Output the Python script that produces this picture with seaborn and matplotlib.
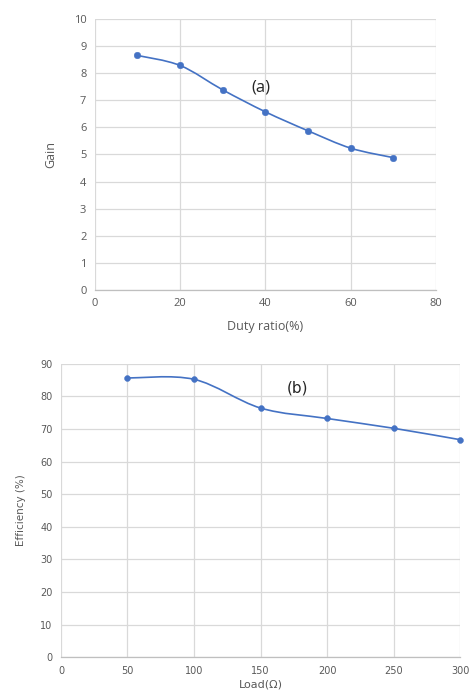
import numpy as np
import matplotlib
matplotlib.use("Agg")
import matplotlib.pyplot as plt
import seaborn as sns
from matplotlib.path import Path
from matplotlib.patches import PathPatch

# Data
duty_ratio = [10, 20, 30, 40, 50, 60, 70]
gain = [8.65, 8.28, 7.38, 6.57, 5.87, 5.23, 4.88]

load = [50, 100, 150, 200, 250, 300]
efficiency = [85.6, 85.2, 76.4, 73.2, 70.2, 66.7]

line_color = "#4472C4"
text_color = "#595959"
grid_color = "#d9d9d9"

sns.set_style("whitegrid", {"grid.color": grid_color, "axes.edgecolor": grid_color})


def smooth_path(x, y):
    # Excel-like smoothed line: cubic Bezier with Catmull-Rom control points
    pts = np.column_stack([x, y]).astype(float)
    verts = [pts[0]]
    codes = [Path.MOVETO]
    n = len(pts)
    for i in range(n - 1):
        p0 = pts[i - 1] if i > 0 else pts[i]
        p1 = pts[i]
        p2 = pts[i + 1]
        p3 = pts[i + 2] if i + 2 < n else pts[i + 1]
        c1 = p1 + (p2 - p0) / 6.0
        c2 = p2 - (p3 - p1) / 6.0
        verts += [c1, c2, p2]
        codes += [Path.CURVE4] * 3
    return Path(verts, codes)


def style_axes(ax, font, tick_size):
    for s in ["top", "right", "left"]:
        ax.spines[s].set_visible(False)
    ax.spines["bottom"].set_color("#bfbfbf")
    ax.spines["bottom"].set_linewidth(0.9)
    ax.grid(True, color=grid_color, linewidth=0.9)
    ax.tick_params(axis="both", length=0, colors=text_color, labelsize=tick_size, pad=6)
    for lab in ax.get_xticklabels() + ax.get_yticklabels():
        lab.set_family(font)


fig = plt.figure(figsize=(4.69, 6.98), dpi=100)

# (a) Gain vs duty ratio
font_a = ["Open Sans", "DejaVu Sans"]
ax1 = fig.add_axes([0.202, 0.5845, 0.728, 0.3885])
ax1.add_patch(PathPatch(smooth_path(duty_ratio, gain), facecolor="none",
                        edgecolor=line_color, linewidth=1.2, zorder=3))
sns.scatterplot(x=duty_ratio, y=gain, ax=ax1, color=line_color, s=22,
                edgecolor=line_color, zorder=4)
ax1.set_xlim(0, 80)
ax1.set_ylim(0, 10)
ax1.set_xticks(range(0, 81, 20))
ax1.set_yticks(range(0, 11))
style_axes(ax1, font_a, 8)
ax1.set_xlabel("Duty ratio(%)", family=font_a, fontsize=9, color=text_color, labelpad=8)
ax1.set_ylabel("Gain", family=font_a, fontsize=9, color=text_color, labelpad=12)
ax1.text(39, 7.45, "(a)", family=font_a, fontsize=12, color="#262626",
         ha="center", va="center")

# (b) Efficiency vs load
font_b = ["Liberation Sans Narrow", "DejaVu Sans"]
ax2 = fig.add_axes([0.130, 0.0583, 0.851, 0.4207])
ax2.add_patch(PathPatch(smooth_path(load, efficiency), facecolor="none",
                        edgecolor=line_color, linewidth=1.2, zorder=3))
sns.scatterplot(x=load, y=efficiency, ax=ax2, color=line_color, s=18,
                edgecolor=line_color, zorder=4, clip_on=False)
ax2.set_xlim(0, 300)
ax2.set_ylim(0, 90)
ax2.set_xticks(range(0, 301, 50))
ax2.set_yticks(range(0, 91, 10))
style_axes(ax2, font_b, 7)
ax2.set_xlabel("Load(Ω)", family=font_b, fontsize=8, color=text_color, labelpad=3)
ax2.set_ylabel("Efficiency (%)", family=font_b, fontsize=7.5, color=text_color, labelpad=10)
ax2.text(178, 82.4, "(b)", family=font_b, fontsize=11, color="#262626",
         ha="center", va="center")

fig.savefig("out.png", dpi=100)
